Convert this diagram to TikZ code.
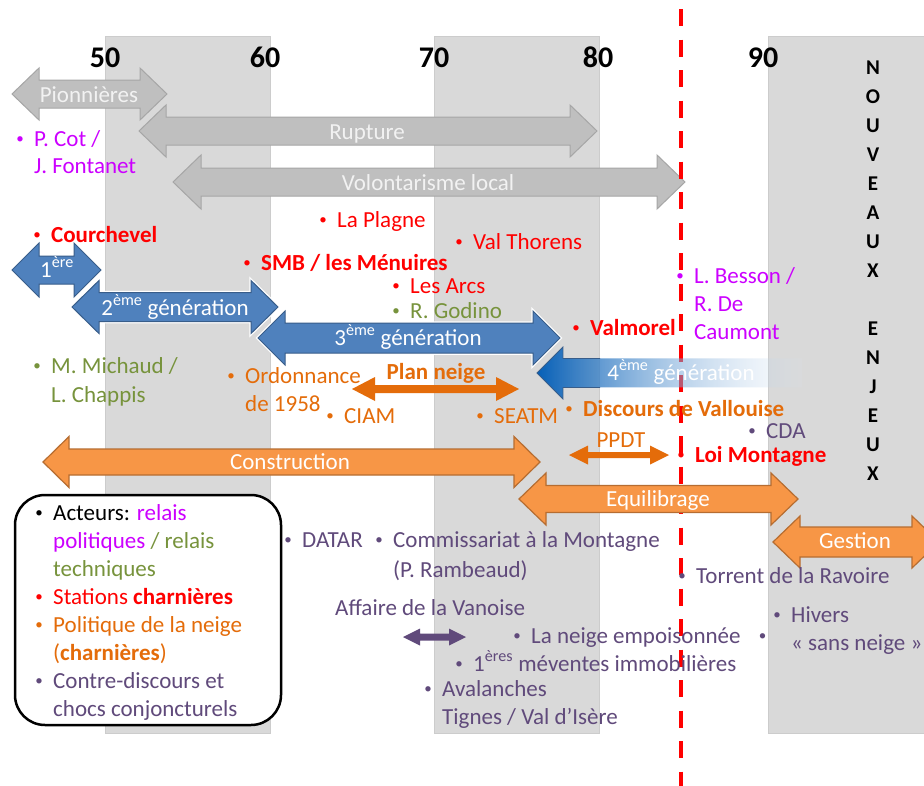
\documentclass[tikz,border=0pt]{standalone}
\usepackage{fontspec}
\setmainfont{Carlito}
\usetikzlibrary{fadings}
\definecolor{bandc}{HTML}{D9D9D9}
\definecolor{bandedge}{HTML}{CCCCCC}
\definecolor{grayfill}{HTML}{BFBFBF}
\definecolor{graystroke}{HTML}{A6A6A6}
\definecolor{grayfont}{HTML}{F2F2F2}
\definecolor{bluefill}{HTML}{4F81BD}
\definecolor{bluestroke}{HTML}{385D8A}
\definecolor{bluedeep}{HTML}{0660B8}
\definecolor{bluepale}{HTML}{DCE8F5}
\definecolor{orfill}{HTML}{F79646}
\definecolor{orstroke}{HTML}{B66D31}
\definecolor{ordark}{HTML}{E46C0A}
\definecolor{redc}{HTML}{FF0000}
\definecolor{magc}{HTML}{CC00FF}
\definecolor{grnc}{HTML}{77933C}
\definecolor{purc}{HTML}{604A7B}
\tikzfading[name=fourfade, left color=transparent!0, middle color=transparent!15, right color=transparent!88]
\newcommand\blockarr[7]{% style, x1, x2, yc, shaft half, head half, head length
  \path[#1] (#2,#4) -- ({#2+#7},{#4-#6}) -- ({#2+#7},{#4-#5}) -- ({#3-#7},{#4-#5})
    -- ({#3-#7},{#4-#6}) -- (#3,#4) -- ({#3-#7},{#4+#6}) -- ({#3-#7},{#4+#5})
    -- ({#2+#7},{#4+#5}) -- ({#2+#7},{#4+#6}) -- cycle;}
\newcommand\bul{\makebox[0pt][c]{\normalfont\fontsize{15}{15}\selectfont\raisebox{2.6pt}{•}}\hspace{14pt}}
\tikzset{
  band/.style={fill=bandc, draw=bandedge, line width=0.8pt},
  grayarr/.style={fill=grayfill, draw=graystroke, line width=1pt},
  bluehalo/.style={draw=white, line width=3.5pt},
  bluearr/.style={fill=bluefill, draw=bluestroke, line width=1pt},
  orarr/.style={fill=orfill, draw=orstroke, line width=1.2pt},
  thinor/.style={fill=ordark},
  thinpur/.style={fill=purc},
  txt/.style={anchor=base west, inner sep=0pt, font=\fontsize{23}{28}\selectfont},
  lbl/.style={anchor=base, inner sep=0pt, font=\fontsize{23}{28}\selectfont, text=white},
  yr/.style={anchor=base, inner sep=0pt, font=\bfseries\fontsize{30}{30}\selectfont},
  ltr/.style={anchor=base, inner sep=0pt, font=\bfseries\fontsize{21}{21}\selectfont},
}
\begin{document}
\begin{tikzpicture}[x=1pt,y=-1pt]
\useasboundingbox (0,0) rectangle (924,785);
\clip (0,0) rectangle (924,785);
\fill[white] (0,0) rectangle (924,785);
% bands
\path[band] (105,36) rectangle (270,733);
\path[band] (434,36) rectangle (599,733);
\path[band] (768,36) rectangle (940,733);
% years
\node[yr] (y50) at (105,67) {50};
\node[yr] (y60) at (265,67) {60};
\node[yr] (y70) at (434,67) {70};
\node[yr] (y80) at (598,67) {80};
\node[yr] (y90) at (763,67) {90};
% vertical text
\foreach \l/\p in {N/0,O/1,U/2,V/3,E/4,A/5,U/6,X/7,E/9,N/10,J/11,E/12,U/13,X/14}
  \node[ltr] (nv\p) at (873,{74+\p*29.07}) {\l};
% gray arrows
\blockarr{grayarr}{12}{167}{94}{14}{26}{27}
\blockarr{grayarr}{139}{597}{131}{14}{26}{27}
\blockarr{grayarr}{173}{685}{182}{14}{27}{28}
\node[lbl, text=grayfont] (pion) at (89,102) {Pionnières};
\node[lbl, text=grayfont] (rupt) at (367,139) {Rupture};
\node[lbl, text=grayfont] (volo) at (428,190) {Volontarisme local};
% dashed line
\coordinate (dtop) at (681,9);
\coordinate (dbot) at (681,790);
\draw[redc, line width=4pt, dash pattern=on 17pt off 13.5pt] (dtop) -- (dbot);
% blue arrows
\blockarr{bluehalo}{12}{101}{270}{14}{27}{27}
\blockarr{bluearr}{12}{101}{270}{14}{27}{27}
\blockarr{bluehalo}{72}{278}{307}{14.5}{26.5}{27}
\blockarr{bluearr}{72}{278}{307}{14.5}{26.5}{27}
\blockarr{bluehalo}{258}{560}{338}{15}{27}{27}
\blockarr{bluearr}{258}{560}{338}{15}{27}{27}
\node[lbl] (g1) at (57,277) {1\textsuperscript{ère}};
\node[lbl] (g2) at (175,315) {2\textsuperscript{ème} génération};
\node[lbl] (g3) at (408,345) {3\textsuperscript{ème} génération};
% 4th generation (fading)
\path[left color=bluedeep, right color=bluepale, path fading=fourfade]
  (537,373) -- (563,347) -- (563,358.5) -- (802,358.5) -- (802,387.5) -- (563,387.5) -- (563,399) -- cycle;
\draw[bluestroke, line width=0.8pt] (600,358.5) -- (563,358.5) -- (563,347) -- (537,373) -- (563,399) -- (563,387.5) -- (600,387.5);
\node[lbl] (g4) at (681,380) {4\textsuperscript{ème} génération};
% orange arrows
\blockarr{orarr}{43}{540}{462}{13}{25.5}{26}
\blockarr{orarr}{519}{798}{499}{13.5}{26}{27}
\blockarr{orarr}{773}{939}{542}{15}{26}{27}
\node[lbl] (cons) at (290,469) {Construction};
\node[lbl] (equi) at (658,506) {Equilibrage};
\node[lbl] (gest) at (855,548) {Gestion};
% thin arrows
\blockarr{thinor}{352}{519}{389}{4}{12}{23}
\blockarr{thinor}{569}{669}{455}{3}{9.5}{19}
\blockarr{thinpur}{403}{466}{637}{3.5}{8.5}{17}
\node[txt, anchor=base, text=ordark, font=\bfseries\fontsize{23}{28}\selectfont] (plan) at (436,379) {Plan neige};
\node[txt, anchor=base, text=ordark] (ppdt) at (621,447) {PPDT};
% texts
\node[txt, text=magc] (cot) at (20,146) {\bul P. Cot /};
\node[txt, text=magc] (cot2) at (34,173) {J. Fontanet};
\node[txt, text=redc, font=\bfseries\fontsize{23}{28}\selectfont] (cour) at (37,242) {\bul Courchevel};
\node[txt, text=redc] (plag) at (323,227) {\bul La Plagne};
\node[txt, text=redc] (valt) at (459,249) {\bul Val Thorens};
\node[txt, text=redc, font=\bfseries\fontsize{23}{28}\selectfont] (smb) at (247,270) {\bul SMB / les Ménuires};
\node[txt, text=redc] (arcs) at (396,293) {\bul Les Arcs};
\node[txt, text=grnc] (godi) at (396,318) {\bul R. Godino};
\node[txt, text=redc, font=\bfseries\fontsize{23}{28}\selectfont] (valm) at (576,335) {\bul Valmorel};
\node[txt, text=magc] (bess) at (680,283) {\bul L. Besson /};
\node[txt, text=magc] (bess2) at (694,311) {R. De};
\node[txt, text=magc] (bess3) at (694,339) {Caumont};
\node[txt, text=grnc] (mich) at (37,373) {\bul M. Michaud /};
\node[txt, text=grnc] (mich2) at (51,402) {L. Chappis};
\node[txt, text=ordark] (ordo) at (231,383) {\bul Ordonnance};
\node[txt, text=ordark] (ordo2) at (245,411) {de 1958};
\node[txt, text=ordark] (ciam) at (330,423) {\bul CIAM};
\node[txt, text=ordark] (seat) at (480,423) {\bul SEATM};
\node[txt, text=ordark, font=\bfseries\fontsize{23}{28}\selectfont] (vall) at (569,416) {\bul Discours de Vallouise};
\node[txt, text=purc] (cda) at (752,438) {\bul CDA};
\node[txt, text=redc, font=\bfseries\fontsize{23}{28}\selectfont] (loim) at (681,462) {\bul Loi Montagne};
\node[txt, text=purc] (data) at (288,547) {\bul DATAR};
\node[txt, text=purc] (comm) at (379,547) {\bul Commissariat à la Montagne};
\node[txt, text=purc] (comm2) at (393,577) {(P. Rambeaud)};
\node[txt, text=purc] (vano) at (335,615) {Affaire de la Vanoise};
\node[txt, text=purc] (tor) at (682,583) {\bul Torrent de la Ravoire};
\node[txt, text=purc] (hiv) at (777,622) {\bul Hivers};
\node[txt, text=purc] (hiv2) at (791,650) {« sans neige »};
\node[txt, text=purc] (nemp) at (517,643) {\bul La neige empoisonnée};
\node[txt, text=purc] (lone) at (762,643) {\makebox[0pt][c]{\fontsize{15}{15}\selectfont\raisebox{2.6pt}{•}}};
\node[txt, text=purc] (mev) at (459,671) {\bul 1\textsuperscript{ères} méventes immobilières};
\node[txt, text=purc] (aval) at (428,696) {\bul Avalanches};
\node[txt, text=purc] (aval2) at (442,724) {Tignes / Val d’Isère};
% legend
\draw[line width=2.5pt, fill=white, rounded corners=30pt] (15,495) rectangle (281,725);
\node[txt] (lg1) at (39,520) {\bul Acteurs: \textcolor{magc}{relais}};
\node[txt] (lg2) at (53,548) {\textcolor{magc}{politiques} \textcolor{grnc}{/ relais}};
\node[txt, text=grnc] (lg3) at (53,576) {techniques};
\node[txt, text=redc] (lg4) at (39,604) {\bul Stations \textbf{charnières}};
\node[txt, text=ordark] (lg5) at (39,632) {\bul Politique de la neige};
\node[txt, text=ordark] (lg6) at (53,660) {(\textbf{charnières})};
\node[txt, text=purc] (lg7) at (39,688) {\bul Contre-discours et};
\node[txt, text=purc] (lg8) at (53,716) {chocs conjoncturels};
\end{tikzpicture}
\end{document}
